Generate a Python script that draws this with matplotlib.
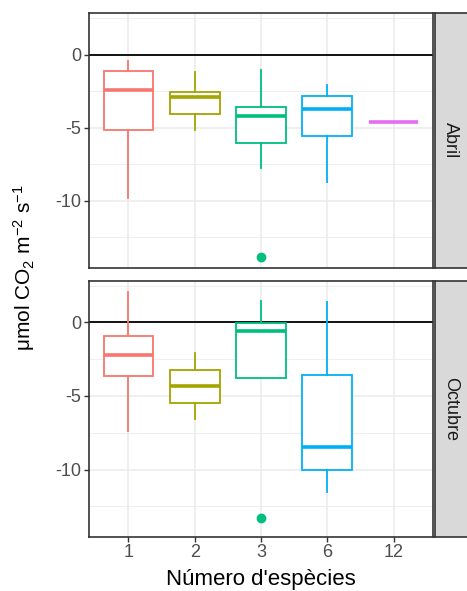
import matplotlib
matplotlib.use("Agg")
import matplotlib.pyplot as plt

plt.rcParams['font.family'] = ['Liberation Sans', 'DejaVu Sans']
plt.rcParams['axes.unicode_minus'] = False
plt.rcParams['mathtext.fontset'] = 'custom'
plt.rcParams['mathtext.rm'] = 'Liberation Sans'
plt.rcParams['mathtext.it'] = 'Liberation Sans'

categories = ["1", "2", "3", "6", "12"]
colors = ["#F8766D", "#A3A500", "#00BF7D", "#00B0F6", "#E76BF3"]
panels = ["Abril", "Octubre"]

# Abril: whisker low, Q1, median, Q3, whisker high
abril_whislo = [-9.82, -5.16, -7.73, -8.73, -4.59]
abril_q1     = [-5.16, -4.07, -6.02, -5.55, -4.59]
abril_med    = [-2.43, -2.89, -4.18, -3.73, -4.59]
abril_q3     = [-1.11, -2.59, -3.57, -2.80, -4.59]
abril_whishi = [-0.45, -1.18, -1.07, -2.09, -4.59]
abril_fliers = [[], [], [-13.82], [], []]

# Octubre (None = no data)
octubre_whislo = [-7.36, -6.57, -3.75, -11.52, None]
octubre_q1     = [-3.61, -5.50, -3.75, -10.05, None]
octubre_med    = [-2.20, -4.34, -0.55, -8.45, None]
octubre_q3     = [-0.91, -3.23, -0.05, -3.57, None]
octubre_whishi = [2.07, -2.09, 1.48, 1.36, None]
octubre_fliers = [[], [], [-13.30], [], []]

W, H = 467, 591
fig = plt.figure(figsize=(W / 100, H / 100), dpi=100)

def fx(px):
    return px / W

def fy(py):
    return 1 - py / H

left, right = 88.7, 433.3
panel_px = [(13.3, 267.7), (281.0, 536.7)]
data = [
    (abril_whislo, abril_q1, abril_med, abril_q3, abril_whishi, abril_fliers),
    (octubre_whislo, octubre_q1, octubre_med, octubre_q3, octubre_whishi, octubre_fliers),
]
border = "#333333"
grid = "#EBEBEB"

for pi, (name, (top, bot), d) in enumerate(zip(panels, panel_px, data)):
    ax = fig.add_axes([fx(left), fy(bot), fx(right - left), (bot - top) / H])
    wlo, q1, med, q3, whi, fl = d
    ax.set_xlim(0.4, 5.6)
    ax.set_ylim(-14.57, 2.82)
    ax.set_yticks([0, -5, -10])
    ax.set_yticklabels(["0", "-5", "-10"])
    ax.set_yticks([2.5, -2.5, -7.5, -12.5], minor=True)
    ax.set_xticks(range(1, 6))
    ax.grid(True, which='major', color=grid, lw=1.1, zorder=0)
    ax.grid(True, which='minor', axis='y', color=grid, lw=0.6, zorder=0)
    ax.tick_params(which='minor', length=0)
    ax.tick_params(which='major', length=3.5, width=1.0, color=border,
                   labelsize=13, labelcolor="#4D4D4D", pad=2)
    ax.set_axisbelow(True)
    ax.axhline(0, color='black', lw=1.3, zorder=1)
    for i in range(5):
        if med[i] is None:
            continue
        st = [dict(whislo=wlo[i], q1=q1[i], med=med[i], q3=q3[i],
                   whishi=whi[i], fliers=fl[i])]
        c = colors[i]
        ax.bxp(st, positions=[i + 1], widths=0.75, patch_artist=True,
               showcaps=False, manage_ticks=False,
               boxprops=dict(facecolor='white', edgecolor=c, lw=1.3),
               whiskerprops=dict(color=c, lw=1.3),
               medianprops=dict(color=c, lw=2.6, solid_capstyle='butt'),
               flierprops=dict(marker='o', markerfacecolor=c,
                               markeredgecolor=c, markersize=6),
               zorder=2)
    for s in ax.spines.values():
        s.set_color(border)
        s.set_linewidth(1.2)
    if pi == 0:
        ax.tick_params(axis='x', which='both', length=0, labelbottom=False)
    else:
        ax.set_xticklabels(categories)
    # strip
    sax = fig.add_axes([fx(434.5), fy(bot), fx(W + 5 - 434.5), (bot - top) / H])
    sax.set_xticks([])
    sax.set_yticks([])
    sax.set_facecolor("#D9D9D9")
    for s in sax.spines.values():
        s.set_color(border)
        s.set_linewidth(1.2)
    sax.text(fx(450.7 - 434.5) / fx(W + 5 - 434.5), 0.5, name, rotation=-90,
             ha='center', va='center', fontsize=13, color="#1A1A1A",
             transform=sax.transAxes)

fig.text(fx(24), fy(268), r"$\mathregular{μmol\ CO_2\ m^{-2}\ s^{-1}}$",
         rotation=90, ha='center', va='center', fontsize=15)
fig.text(fx(261), fy(584.5), "Número d'espècies", ha='center', va='baseline',
         fontsize=16)

fig.savefig("out.png", dpi=100)
